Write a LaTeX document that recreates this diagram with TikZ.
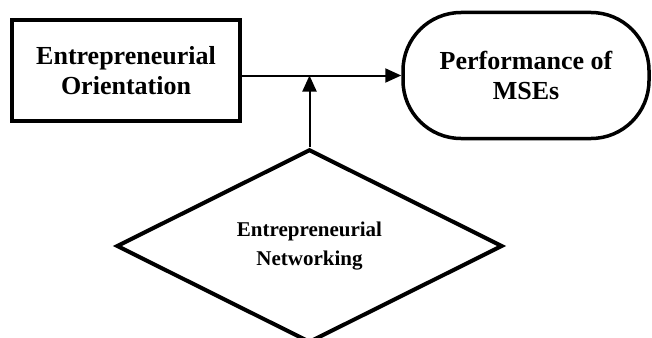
\documentclass[tikz,border=0pt]{standalone}
\usepackage{fontspec}
\setmainfont{Liberation Serif}
\usetikzlibrary{shapes.geometric,arrows.meta}
\begin{document}
\begin{tikzpicture}[x=1pt,y=-1pt,
  boxstyle/.style={draw, line width=4pt, inner sep=0pt, align=center, font=\bfseries\fontsize{26}{30}\selectfont},
  conn/.style={line width=2pt, -{Triangle[length=16pt,width=14pt]}}]
\useasboundingbox (0,0) rectangle (652,337);
\node[boxstyle, minimum width=228pt, minimum height=101pt] (eo) at (126,70.5) {Entrepreneurial\\Orientation};
\node[boxstyle, line width=3.5pt, rounded corners=58pt, minimum width=246pt, minimum height=126pt] (perf) at (526,75.5) {Performance of\\MSEs};
\node[boxstyle, diamond, minimum width=386pt, minimum height=175pt, font=\bfseries\fontsize{21}{29}\selectfont] (nw) at (309.5,246) {Entrepreneurial\\Networking};
\draw[conn] (eo.east |- perf.west) -- (perf.west);
\draw[conn] (nw.north) -- (nw.north |- perf.west);
\end{tikzpicture}
\end{document}
